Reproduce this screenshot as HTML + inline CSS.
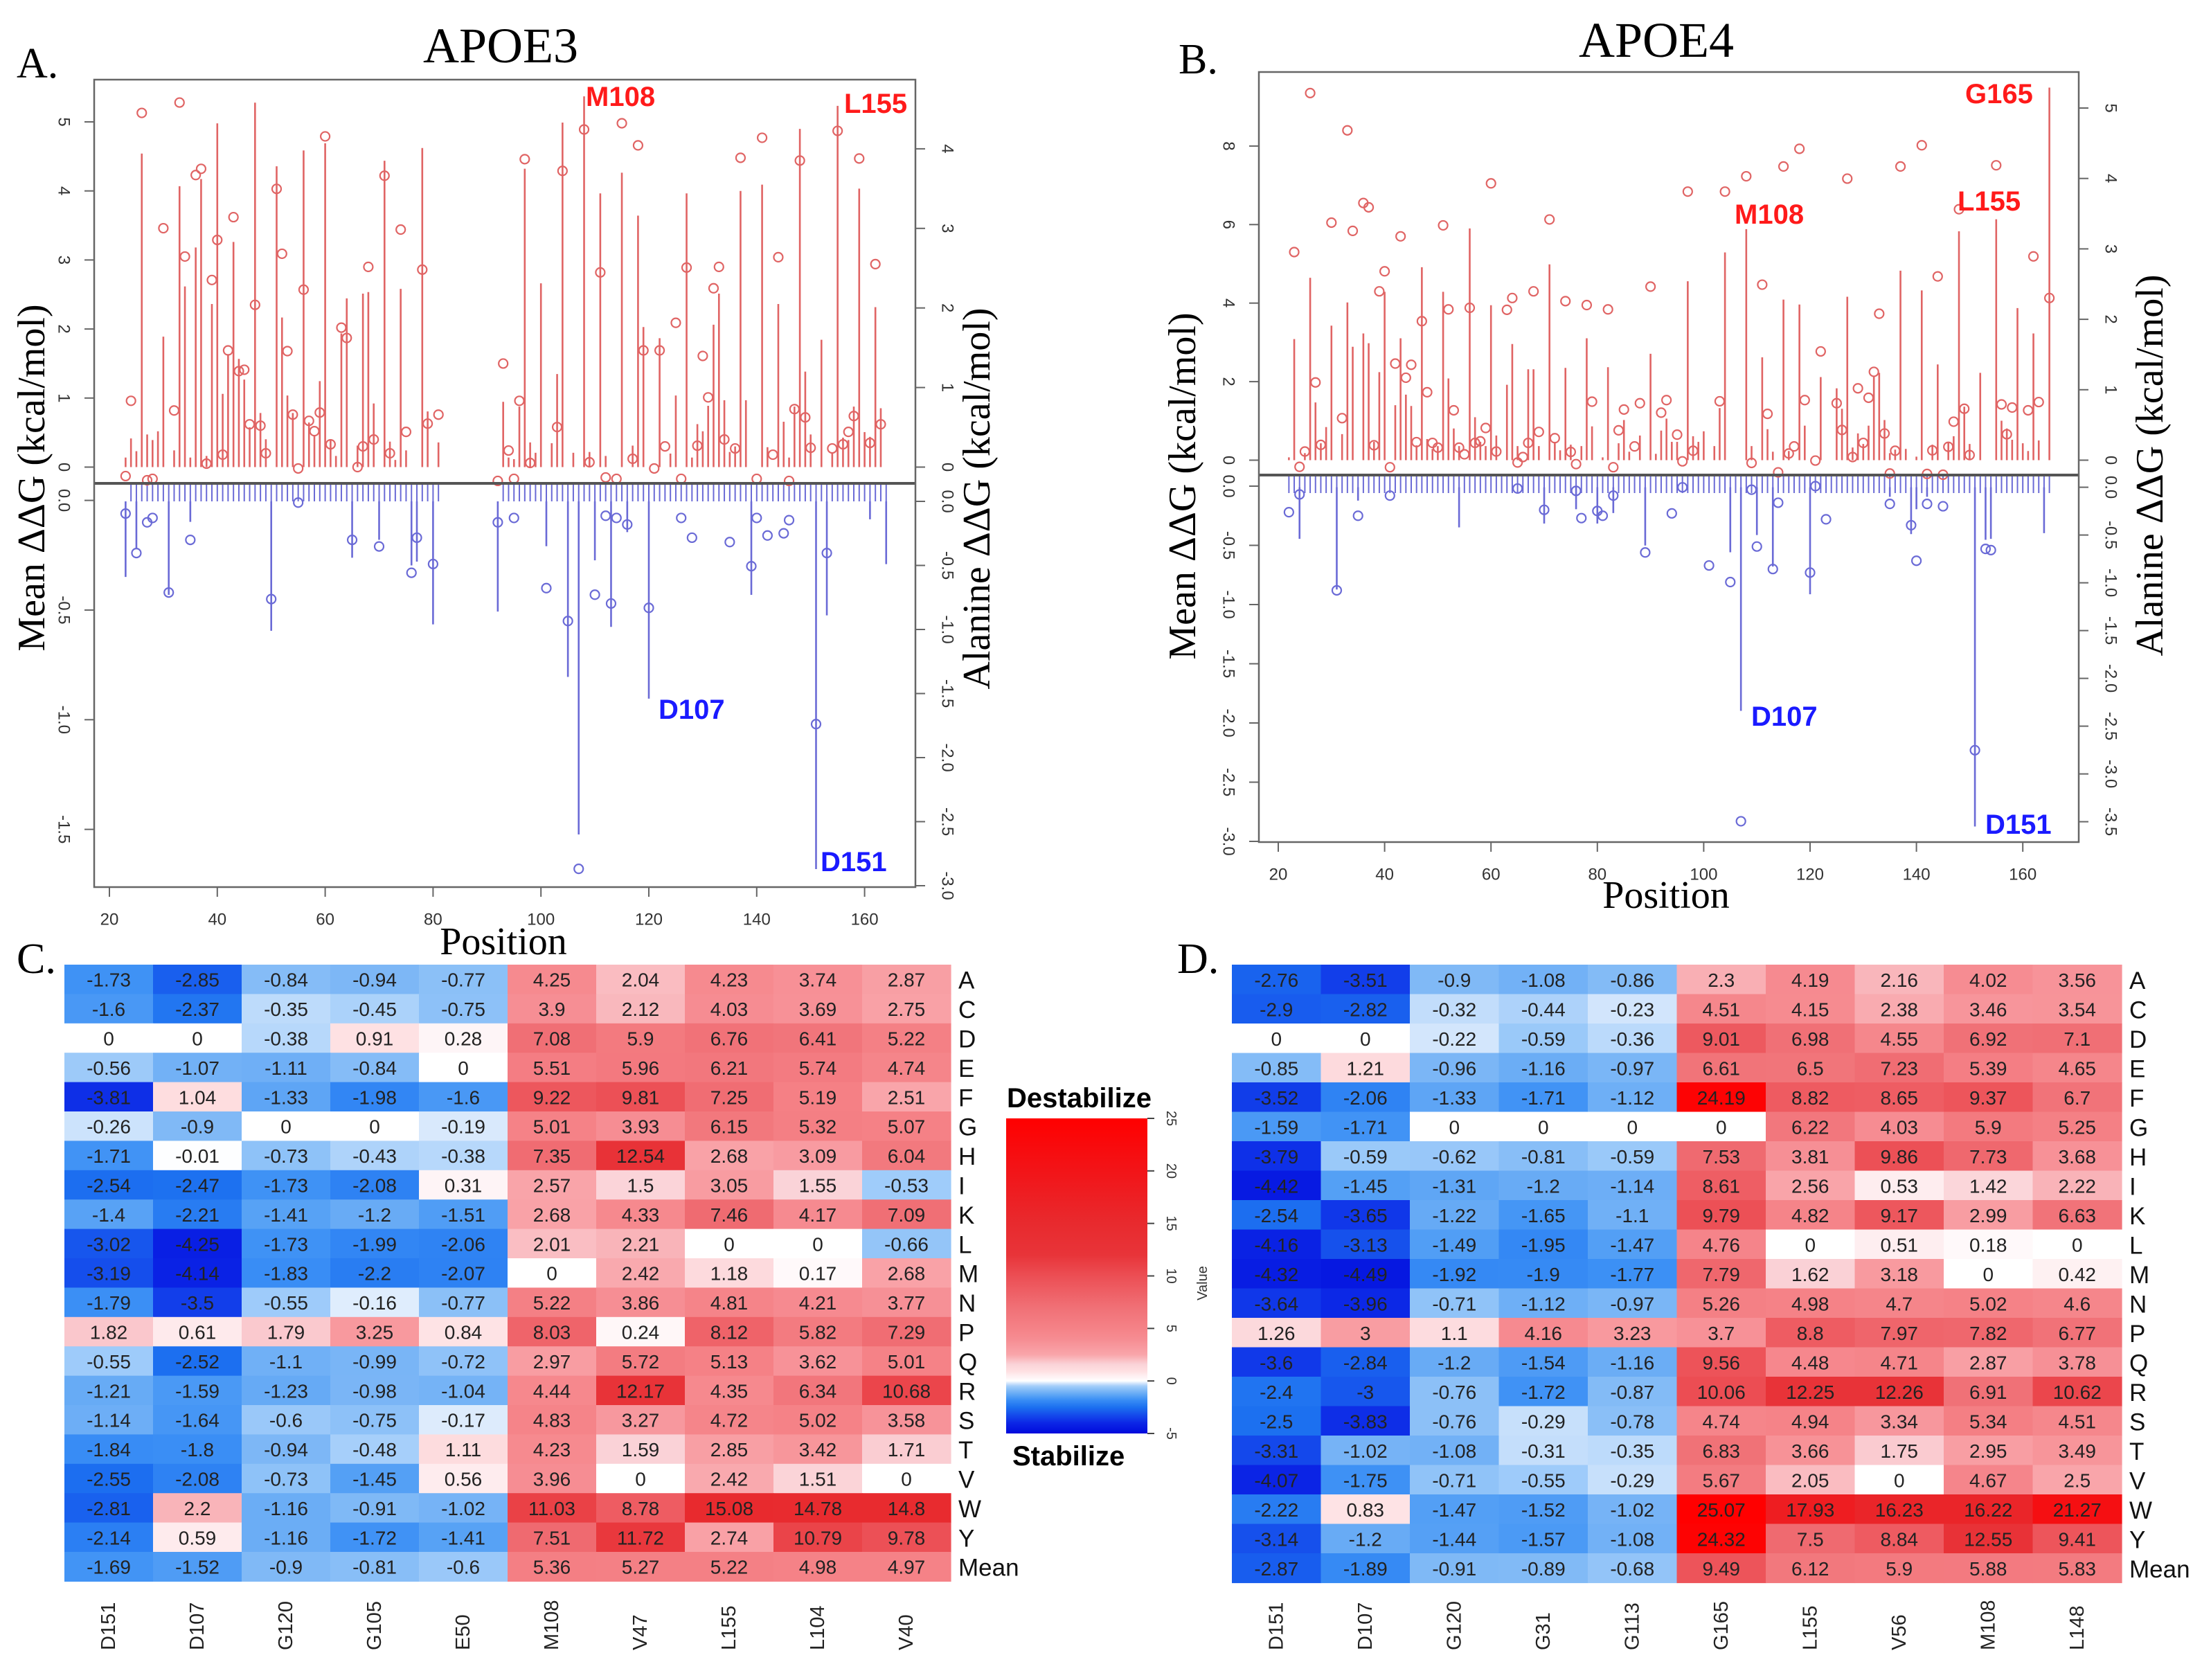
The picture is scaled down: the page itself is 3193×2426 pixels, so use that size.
<!DOCTYPE html>
<html><head><meta charset="utf-8"><title>APOE3 / APOE4 ΔΔG</title>
<style>
html,body{margin:0;padding:0;background:#fff;}
svg{display:block;}
.serif{font-family:"Liberation Serif","DejaVu Serif",serif;}
.sans{font-family:"Liberation Sans","DejaVu Sans",sans-serif;}
</style></head>
<body>
<svg id="fig" xmlns="http://www.w3.org/2000/svg" width="3193" height="2426" viewBox="0 0 3193 2426">
<rect x="0" y="0" width="3193" height="2426" fill="#fff"/>
<text class="serif" x="24" y="112" font-size="62" fill="#000">A.</text>
<text class="serif" x="723" y="90" font-size="72" text-anchor="middle" fill="#000">APOE3</text>
<text class="serif" x="1702" y="106" font-size="62" fill="#000">B.</text>
<text class="serif" x="2392" y="82" font-size="72" text-anchor="middle" fill="#000">APOE4</text>
<text class="serif" x="24" y="1405" font-size="62" fill="#000">C.</text>
<text class="serif" x="1700" y="1405" font-size="62" fill="#000">D.</text>
<g id="gA"></g>
<g id="gB"></g>
<g id="gC"></g>
<g id="gD"></g>
<g id="gBar"></g>
</svg>
<script>
// ---------- Panel A data (APOE3) ----------
const aUpMeanPos=[23,24,26,27,28,30,32,33,34,36,37,38,39,40,41,42,43,44,45,46,47,48,49,51,52,53,54,55,56,57,58,59,60,61,63,64,66,67,68,69,71,72,74,75,78,79,81,92,93,94,95,96,97,98,103,104,108,109,111,112,114,115,117,118,119,121,122,123,125,126,127,129,130,131,132,133,134,136,137,140,141,143,144,146,147,148,149,150,154,155,156,157,158,159,161,162,163];
const aUpMean=[-0.13,0.96,5.13,-0.19,-0.17,3.46,0.82,5.28,3.05,4.23,4.32,0.05,2.71,3.29,0.18,1.69,3.62,1.39,1.41,0.62,2.35,0.6,0.2,4.03,3.09,1.68,0.76,-0.02,2.57,0.67,0.52,0.79,4.79,0.33,2.02,1.87,0,0.3,2.9,0.4,4.22,0.2,3.44,0.51,2.86,0.63,0.76,-0.2,1.5,0.24,-0.17,0.96,4.46,0.06,0.58,4.29,4.89,0.07,2.82,-0.15,-0.17,4.98,0.12,4.66,1.69,-0.02,1.69,0.3,2.09,-0.17,2.89,0.31,1.61,1.01,2.59,2.9,0.4,0.27,4.48,-0.17,4.77,0.18,3.04,-0.2,0.84,4.44,0.72,0.28,0.27,4.87,0.33,0.51,0.74,4.47,0.35,2.94,0.62];
const aUpAlaPos=[23,24,25,26,27,28,29,30,32,33,34,35,36,37,38,39,40,41,42,43,44,45,46,47,48,49,51,52,53,54,56,57,58,59,60,61,62,63,64,66,67,68,69,71,72,73,74,75,78,79,81,93,94,95,96,97,98,99,100,102,103,104,106,108,109,111,112,115,117,118,119,122,124,125,127,128,129,130,131,132,133,134,135,136,137,138,141,142,144,145,146,147,148,149,150,152,154,155,156,157,158,159,160,161,162,163];
const aUpAla=[0.12,0.36,0.2,3.94,0.41,0.34,0.45,1.64,0.21,3.53,2.27,0.12,2.76,3.62,0.14,2.05,4.32,0.92,1.42,2.83,1.36,1.1,0.5,4.58,0.68,0.35,3.78,1.88,0.9,0.68,3.98,0.56,0.39,1.08,4.07,0.35,0.14,1.68,2.12,0.27,2.18,2.2,0.8,3.85,0.32,0.09,2.24,0.21,4.01,0.7,0.31,0.82,0.12,0.1,0.76,3.75,0.31,0.18,2.31,0.3,1.17,4.33,0.18,4.66,0.19,3.44,0.14,3.7,0.27,3.16,1.76,1.62,0.17,0.9,3.44,0.12,0.54,0.45,0.77,1.79,2.18,0.84,0.19,0.26,3.47,0.84,3.55,0.25,2.05,0.57,0.12,0.76,4.25,1.2,0.41,1.6,0.18,4.54,0.37,0.34,0.76,3.5,0.44,0.38,2.01,0.74];
const aLoMeanPos=[23,25,27,28,31,35,50,55,65,70,76,77,80,92,95,101,105,107,110,112,113,114,116,120,126,128,135,139,140,142,145,146,151,153];
const aLoMean=[-0.06,-0.24,-0.1,-0.08,-0.42,-0.18,-0.45,-0.01,-0.18,-0.21,-0.33,-0.17,-0.29,-0.1,-0.08,-0.4,-0.55,-1.68,-0.43,-0.07,-0.47,-0.08,-0.11,-0.49,-0.08,-0.17,-0.19,-0.3,-0.08,-0.16,-0.15,-0.09,-1.02,-0.24];
const aLoAlaPos=[23,25,31,35,50,65,70,76,77,80,92,101,105,107,110,113,116,120,139,151,153,161,164];
const aLoAla=[-0.59,-0.37,-0.73,-0.16,-1.01,-0.44,-0.3,-0.5,-0.47,-0.96,-0.86,-0.35,-1.37,-2.6,-0.46,-0.98,-0.24,-1.54,-0.73,-2.87,-0.89,-0.14,-0.49];
const aUpTicks=[0,1,2,3,4,5];
const aLoTicks=[0.0,-0.5,-1.0,-1.5];
const aRUpTicks=[0,1,2,3,4];
const aRLoTicks=[0.0,-0.5,-1.0,-1.5,-2.0,-2.5,-3.0];
const xTicks=[20,40,60,80,100,120,140,160];

// ---------- Panel B data (APOE4) ----------
const bUpMeanPos=[23,24,25,26,27,28,30,32,33,34,36,37,38,39,40,41,42,43,44,45,46,47,48,49,50,51,52,53,54,55,56,57,58,59,60,61,63,64,65,66,67,68,69,71,72,74,75,76,78,79,82,83,84,85,87,88,90,92,93,95,96,97,98,103,104,108,109,111,112,114,115,116,117,118,119,121,122,125,126,127,128,129,130,131,132,133,134,135,136,137,141,142,143,144,145,146,147,148,149,150,155,156,157,158,161,162,163,165];
const bUpMean=[5.3,-0.17,0.22,9.35,1.98,0.39,6.05,1.07,8.4,5.84,6.55,6.44,0.38,4.3,4.81,-0.18,2.46,5.7,2.1,2.43,0.46,3.54,1.73,0.44,0.32,5.98,3.84,1.27,0.32,0.15,3.88,0.44,0.48,0.82,7.05,0.22,3.83,4.13,-0.06,0.08,0.44,4.3,0.72,6.13,0.56,4.05,0.21,-0.1,3.95,1.49,3.84,-0.18,0.76,1.29,0.35,1.45,4.42,1.21,1.53,0.65,-0.03,6.84,0.24,1.5,6.84,7.23,-0.07,4.47,1.18,-0.31,7.48,0.17,0.35,7.93,1.53,-0.01,2.77,1.45,0.77,7.17,0.08,1.83,0.44,1.59,2.25,3.73,0.68,-0.34,0.24,7.48,8.02,-0.35,0.25,4.68,-0.37,0.34,0.98,6.39,1.31,0.13,7.51,1.42,0.66,1.34,1.27,5.19,1.48,4.13];
const bUpAlaPos=[22,23,25,26,27,28,29,30,32,33,34,36,37,38,39,40,42,43,44,45,46,47,48,49,50,51,52,53,54,56,57,58,59,60,61,63,64,65,67,68,69,71,72,73,74,75,77,78,79,81,82,84,85,86,88,90,91,92,93,94,95,97,98,99,100,102,103,104,108,109,111,112,113,115,116,118,119,122,125,126,127,128,129,130,131,132,133,134,135,136,137,138,140,141,143,144,146,147,148,149,150,152,155,156,157,158,159,160,161,162,163,165];
const bUpAla=[0.04,1.72,0.1,2.59,0.82,0.24,0.47,1.91,0.37,2.24,1.61,1.8,1.66,0.26,1.25,2.39,0.78,1.73,0.93,0.77,0.21,2.74,0.3,0.16,0.2,2.39,1.16,0.45,0.2,3.29,0.61,0.26,0.2,2.2,0.35,1.07,1.65,0.2,1.29,1.29,0.2,2.78,0.26,0.14,1.31,0.22,0.2,1.73,0.48,0.04,1.32,0.24,0.57,0.12,0.35,1.51,0.09,0.42,0.59,0.26,0.26,2.54,0.34,0.26,0.41,0.2,0.74,2.95,3.28,0.2,1.46,0.44,0.12,2.28,0.13,2.21,0.49,1.18,1.02,0.73,2.32,0.18,0.38,0.23,0.49,1.2,1.24,0.57,0.1,0.15,2.69,0.16,0.05,2.41,0.22,1.36,0.26,0.34,3.25,0.76,0.23,1.24,3.42,0.56,0.45,0.29,2.16,0.24,0.13,1.8,0.28,5.29];
const bLoMeanPos=[22,24,31,35,41,65,70,76,77,80,81,83,89,94,96,101,105,107,109,110,113,114,120,121,123,135,139,140,142,145,151,153,154];
const bLoMean=[-0.22,-0.07,-0.88,-0.25,-0.08,-0.02,-0.2,-0.04,-0.27,-0.21,-0.25,-0.08,-0.56,-0.23,-0.01,-0.67,-0.81,-2.83,-0.03,-0.51,-0.7,-0.14,-0.73,0,-0.28,-0.15,-0.33,-0.63,-0.15,-0.17,-2.23,-0.53,-0.54];
const bLoAlaPos=[24,31,35,54,70,76,80,83,89,105,107,110,113,120,135,139,140,142,151,153,154,164];
const bLoAla=[-0.54,-1.07,-0.14,-0.42,-0.38,-0.23,-0.38,-0.27,-0.61,-0.68,-2.34,-0.5,-0.83,-1.12,-0.1,-0.49,-0.23,-0.1,-3.55,-0.55,-0.54,-0.48];
const bUpTicks=[0,2,4,6,8];
const bLoTicks=[0.0,-0.5,-1.0,-1.5,-2.0,-2.5,-3.0];
const bRUpTicks=[0,1,2,3,4,5];
const bRLoTicks=[0.0,-0.5,-1.0,-1.5,-2.0,-2.5,-3.0,-3.5];

// ---------- Heatmap data ----------
const rowLabels=["A","C","D","E","F","G","H","I","K","L","M","N","P","Q","R","S","T","V","W","Y","Mean"];
const cCols=["D151","D107","G120","G105","E50","M108","V47","L155","L104","V40"];
const cVals=[
[-1.73,-2.85,-0.84,-0.94,-0.77,4.25,2.04,4.23,3.74,2.87],
[-1.6,-2.37,-0.35,-0.45,-0.75,3.9,2.12,4.03,3.69,2.75],
[0,0,-0.38,0.91,0.28,7.08,5.9,6.76,6.41,5.22],
[-0.56,-1.07,-1.11,-0.84,0,5.51,5.96,6.21,5.74,4.74],
[-3.81,1.04,-1.33,-1.98,-1.6,9.22,9.81,7.25,5.19,2.51],
[-0.26,-0.9,0,0,-0.19,5.01,3.93,6.15,5.32,5.07],
[-1.71,-0.01,-0.73,-0.43,-0.38,7.35,12.54,2.68,3.09,6.04],
[-2.54,-2.47,-1.73,-2.08,0.31,2.57,1.5,3.05,1.55,-0.53],
[-1.4,-2.21,-1.41,-1.2,-1.51,2.68,4.33,7.46,4.17,7.09],
[-3.02,-4.25,-1.73,-1.99,-2.06,2.01,2.21,0,0,-0.66],
[-3.19,-4.14,-1.83,-2.2,-2.07,0,2.42,1.18,0.17,2.68],
[-1.79,-3.5,-0.55,-0.16,-0.77,5.22,3.86,4.81,4.21,3.77],
[1.82,0.61,1.79,3.25,0.84,8.03,0.24,8.12,5.82,7.29],
[-0.55,-2.52,-1.1,-0.99,-0.72,2.97,5.72,5.13,3.62,5.01],
[-1.21,-1.59,-1.23,-0.98,-1.04,4.44,12.17,4.35,6.34,10.68],
[-1.14,-1.64,-0.6,-0.75,-0.17,4.83,3.27,4.72,5.02,3.58],
[-1.84,-1.8,-0.94,-0.48,1.11,4.23,1.59,2.85,3.42,1.71],
[-2.55,-2.08,-0.73,-1.45,0.56,3.96,0,2.42,1.51,0],
[-2.81,2.2,-1.16,-0.91,-1.02,11.03,8.78,15.08,14.78,14.8],
[-2.14,0.59,-1.16,-1.72,-1.41,7.51,11.72,2.74,10.79,9.78],
[-1.69,-1.52,-0.9,-0.81,-0.6,5.36,5.27,5.22,4.98,4.97]];
const dCols=["D151","D107","G120","G31","G113","G165","L155","V56","M108","L148"];
const dVals=[
[-2.76,-3.51,-0.9,-1.08,-0.86,2.3,4.19,2.16,4.02,3.56],
[-2.9,-2.82,-0.32,-0.44,-0.23,4.51,4.15,2.38,3.46,3.54],
[0,0,-0.22,-0.59,-0.36,9.01,6.98,4.55,6.92,7.1],
[-0.85,1.21,-0.96,-1.16,-0.97,6.61,6.5,7.23,5.39,4.65],
[-3.52,-2.06,-1.33,-1.71,-1.12,24.19,8.82,8.65,9.37,6.7],
[-1.59,-1.71,0,0,0,0,6.22,4.03,5.9,5.25],
[-3.79,-0.59,-0.62,-0.81,-0.59,7.53,3.81,9.86,7.73,3.68],
[-4.42,-1.45,-1.31,-1.2,-1.14,8.61,2.56,0.53,1.42,2.22],
[-2.54,-3.65,-1.22,-1.65,-1.1,9.79,4.82,9.17,2.99,6.63],
[-4.16,-3.13,-1.49,-1.95,-1.47,4.76,0,0.51,0.18,0],
[-4.32,-4.49,-1.92,-1.9,-1.77,7.79,1.62,3.18,0,0.42],
[-3.64,-3.96,-0.71,-1.12,-0.97,5.26,4.98,4.7,5.02,4.6],
[1.26,3,1.1,4.16,3.23,3.7,8.8,7.97,7.82,6.77],
[-3.6,-2.84,-1.2,-1.54,-1.16,9.56,4.48,4.71,2.87,3.78],
[-2.4,-3,-0.76,-1.72,-0.87,10.06,12.25,12.26,6.91,10.62],
[-2.5,-3.83,-0.76,-0.29,-0.78,4.74,4.94,3.34,5.34,4.51],
[-3.31,-1.02,-1.08,-0.31,-0.35,6.83,3.66,1.75,2.95,3.49],
[-4.07,-1.75,-0.71,-0.55,-0.29,5.67,2.05,0,4.67,2.5],
[-2.22,0.83,-1.47,-1.52,-1.02,25.07,17.93,16.23,16.22,21.27],
[-3.14,-1.2,-1.44,-1.57,-1.08,24.32,7.5,8.84,12.55,9.41],
[-2.87,-1.89,-0.91,-0.89,-0.68,9.49,6.12,5.9,5.88,5.83]];
const barTicks=[25,20,15,10,5,0,-5];

const NS="http://www.w3.org/2000/svg";
function mk(tag,attrs,parent,txt){const e=document.createElementNS(NS,tag);for(const k in attrs)e.setAttribute(k,attrs[k]);if(txt!==undefined)e.textContent=txt;parent.appendChild(e);return e;}
const RED="#e06464", BLUE="#6a6ad6";
const SANS='"Liberation Sans","DejaVu Sans",sans-serif', SERIF='"Liberation Serif","DejaVu Serif",serif';

function drawLolli(g,c,upMP,upM,upAP,upA,loMP,loM,loAP,loA,upT,loT,rUpT,rLoT,labels){
  const X=p=>c.x20+(p-20)*c.ppu;
  const yUL=v=>c.upZero-v*c.upL, yUR=v=>c.upZero-v*c.upR;
  const yLL=v=>c.loZeroL-v*c.loL, yLR=v=>c.loZeroR-v*c.loR;
  for(let p=c.rugFrom;p<=c.rugTo;p++){ if(p>=c.gapFrom&&p<=c.gapTo)continue;
    const r=mk('line',{x1:X(p),x2:X(p),y1:c.div+2,y2:c.div+26,stroke:BLUE,'stroke-width':2},g);
    
    
  }
  upAP.forEach((p,i)=>{const l=mk('line',{x1:X(p),x2:X(p),y1:yUR(0),y2:yUR(upA[i]),stroke:RED,'stroke-width':2.6},g);
    
    });
  loAP.forEach((p,i)=>{const l=mk('line',{x1:X(p),x2:X(p),y1:yLR(0),y2:yLR(loA[i]),stroke:BLUE,'stroke-width':2.6},g);
    
    });
  upMP.forEach((p,i)=>{const o=mk('circle',{cx:X(p),cy:yUL(upM[i]),r:6.5,fill:'none',stroke:RED,'stroke-width':2.2},g);
    
    });
  loMP.forEach((p,i)=>{const o=mk('circle',{cx:X(p),cy:yLL(loM[i]),r:6.5,fill:'none',stroke:BLUE,'stroke-width':2.2},g);
    
    });
  const d=mk('line',{x1:c.L,x2:c.R,y1:c.div,y2:c.div,stroke:'#555','stroke-width':4},g);
  
  
  const b=mk('rect',{x:c.L,y:c.T,width:c.R-c.L,height:c.B-c.T,fill:'none',stroke:'#666','stroke-width':2.5},g);
  
  
  function ytick(y,xEdge,dir,lab,name){
    mk('line',{x1:xEdge,x2:xEdge+dir*14,y1:y,y2:y,stroke:'#666','stroke-width':2},g);
    const lx=xEdge+dir*(dir<0?44:46);
    const t=mk('text',{x:lx,y:y,'font-size':24,'font-family':SANS,fill:'#333','text-anchor':'middle','dominant-baseline':'central',transform:`rotate(90 ${lx} ${y})`},g,lab);
    
    
  }
  upT.forEach(v=>ytick(yUL(v),c.L,-1,String(v),'left-y-tick-label'));
  loT.forEach(v=>ytick(yLL(v),c.L,-1,v.toFixed(1),'left-y-tick-label'));
  rUpT.forEach(v=>ytick(yUR(v),c.R,1,String(v),'right-y-tick-label'));
  rLoT.forEach(v=>ytick(yLR(v),c.R,1,v.toFixed(1),'right-y-tick-label'));
  xTicks.forEach(v=>{mk('line',{x1:X(v),x2:X(v),y1:c.B,y2:c.B+14,stroke:'#666','stroke-width':2},g);
    const t=mk('text',{x:X(v),y:c.B+47,'font-size':24,'font-family':SANS,fill:'#333','text-anchor':'middle','dominant-baseline':'central'},g,String(v));
    
    });
  const xt=mk('text',{x:c.posX,y:c.posY,'font-size':56,'font-family':SERIF,fill:'#000','text-anchor':'middle'},g,'Position');
  
  
  const yl=mk('text',{x:c.ylX,y:c.ylY,'font-size':56,'font-family':SERIF,fill:'#000','text-anchor':'middle','dominant-baseline':'central',transform:`rotate(-90 ${c.ylX} ${c.ylY})`},g,'Mean ΔΔG (kcal/mol)');
  
  
  const yr=mk('text',{x:c.yrX,y:c.yrY,'font-size':56,'font-family':SERIF,fill:'#000','text-anchor':'middle','dominant-baseline':'central',transform:`rotate(-90 ${c.yrX} ${c.yrY})`},g,'Alanine ΔΔG (kcal/mol)');
  
  
  labels.forEach(l=>{const t=mk('text',{x:l[1],y:l[2],'font-size':40,'font-weight':'bold','font-family':SANS,fill:l[3],'dominant-baseline':'central'},g,l[0]);
    
    });
}

drawLolli(document.getElementById('gA'),
 {L:136,R:1322,T:115,B:1281,x20:158,ppu:7.79,upZero:674.5,upL:99.7,upR:114.9,loZeroL:722.6,loL:316.7,loZeroR:724,loR:185,div:698,
  rugFrom:24,rugTo:164,gapFrom:82,gapTo:92,posX:727,posY:1378,ylX:46,ylY:690,yrX:1411,yrY:720},
 aUpMeanPos,aUpMean,aUpAlaPos,aUpAla,aLoMeanPos,aLoMean,aLoAlaPos,aLoAla,aUpTicks,aLoTicks,aRUpTicks,aRLoTicks,
 [["M108",846,140,"#ff1a1a"],["L155",1219,150,"#ff1a1a"],["D107",951,1025,"#1a1aff"],["D151",1185,1245,"#1a1aff"]]);

drawLolli(document.getElementById('gB'),
 {L:1818,R:3002,T:104,B:1216,x20:1846,ppu:7.68,upZero:664.5,upL:56.7,upR:101.7,loZeroL:702,loL:171,loZeroR:703.6,loR:138,div:686,
  rugFrom:22,rugTo:165,gapFrom:0,gapTo:0,posX:2406,posY:1311,ylX:1708,ylY:702,yrX:3105,yrY:672},
 bUpMeanPos,bUpMean,bUpAlaPos,bUpAla,bLoMeanPos,bLoMean,bLoAlaPos,bLoAla,bUpTicks,bLoTicks,bRUpTicks,bRLoTicks,
 [["G165",2838,136,"#ff1a1a"],["M108",2505,310,"#ff1a1a"],["L155",2827,291,"#ff1a1a"],["D107",2529,1035,"#1a1aff"],["D151",2867,1191,"#1a1aff"]]);

const negStops=[[0,[255,255,255]],[0.2,[215,232,252]],[0.5,[162,205,250]],[0.9,[128,185,246]],[1.4,[88,162,245]],[1.8,[58,142,245]],[2.5,[28,112,240]],[3.3,[20,72,235]],[4.0,[12,38,230]],[5,[0,10,220]]];
const posStops=[[0,[255,255,255]],[0.5,[254,238,240]],[1.0,[254,222,224]],[1.6,[250,210,215]],[2.5,[249,165,170]],[4,[246,140,146]],[5,[245,130,135]],[7,[240,112,118]],[10,[236,78,84]],[12,[232,52,57]],[15,[232,42,46]],[20,[242,20,24]],[25,[255,0,0]]];
function interp(stops,v){if(v<=stops[0][0])return stops[0][1];for(let i=1;i<stops.length;i++){if(v<=stops[i][0]){const a=stops[i-1],b=stops[i],t=(v-a[0])/(b[0]-a[0]);return a[1].map((c,k)=>Math.round(c+(b[1][k]-c)*t));}}return stops[stops.length-1][1];}
function col(v){const c=v<0?interp(negStops,-v):interp(posStops,v);return `rgb(${c[0]},${c[1]},${c[2]})`;}

function drawHeat(g,cols,vals,L,T,cw,rh){
  vals.forEach((row,r)=>row.forEach((v,ci)=>{
    const x=L+ci*cw,y=T+r*rh;
    const rc=mk('rect',{x:x,y:y,width:cw+0.6,height:rh+0.6,fill:col(v)},g);
    
    
    const t=mk('text',{x:x+cw/2,y:y+rh/2+1,'font-size':28,'font-family':SANS,fill:'#222','text-anchor':'middle','dominant-baseline':'central'},g,String(v));
    
    
  }));
  rowLabels.forEach((lab,r)=>{const t=mk('text',{x:L+cols.length*cw+11,y:T+r*rh+rh/2+2,'font-size':35,'font-family':SANS,fill:'#111','dominant-baseline':'central'},g,lab);
    
    });
  cols.forEach((lab,ci)=>{const x=L+ci*cw+cw/2,y=2383;
    const t=mk('text',{x:x,y:y,'font-size':29,'font-family':SANS,fill:'#222','dominant-baseline':'central',transform:`rotate(-90 ${x} ${y})`},g,lab);
    
    });
}
drawHeat(document.getElementById('gC'),cCols,cVals,93,1393,128,42.4);
drawHeat(document.getElementById('gD'),dCols,dVals,1779,1393,128.5,42.5);

(function(){
  const g=document.getElementById('gBar');
  const defs=mk('defs',{},g);
  const lg=mk('linearGradient',{id:'cb',x1:0,y1:0,x2:0,y2:1},defs);
  const top=1615,bot=2070,x=1453,w=204;
  const y=v=>top+(25-v)/30*(bot-top);
  [25,20,15,12,10,7,5,4,2.5,1.6,1,0.5,0].forEach(v=>mk('stop',{offset:((25-v)/30).toFixed(4),'stop-color':col(v)},lg));
  [-0.2,-0.5,-0.9,-1.4,-1.8,-2.5,-3.3,-4,-5].forEach(v=>mk('stop',{offset:((25-v)/30).toFixed(4),'stop-color':col(v)},lg));
  const r=mk('rect',{x:x,y:top,width:w,height:bot-top,fill:'url(#cb)'},g);
  
  
  barTicks.forEach(v=>{mk('line',{x1:x+w,x2:x+w+10,y1:y(v),y2:y(v),stroke:'#444','stroke-width':2},g);
    const t=mk('text',{x:x+w+34,y:y(v),'font-size':20,'font-family':SANS,fill:'#333','text-anchor':'middle','dominant-baseline':'central',transform:`rotate(90 ${x+w+34} ${y(v)})`},g,String(v));
    
    });
  const vt=mk('text',{x:1737,y:1853,'font-size':20,'font-family':SANS,fill:'#333','text-anchor':'middle','dominant-baseline':'central',transform:'rotate(-90 1737 1853)'},g,'Value');
  
  
  const d=mk('text',{x:1454,y:1586,'font-size':40,'font-weight':'bold','font-family':SANS,fill:'#000','dominant-baseline':'central'},g,'Destabilize');
  
  
  const s=mk('text',{x:1462,y:2103,'font-size':40,'font-weight':'bold','font-family':SANS,fill:'#000','dominant-baseline':'central'},g,'Stabilize');
  
  
})();
</script>
</body></html>
